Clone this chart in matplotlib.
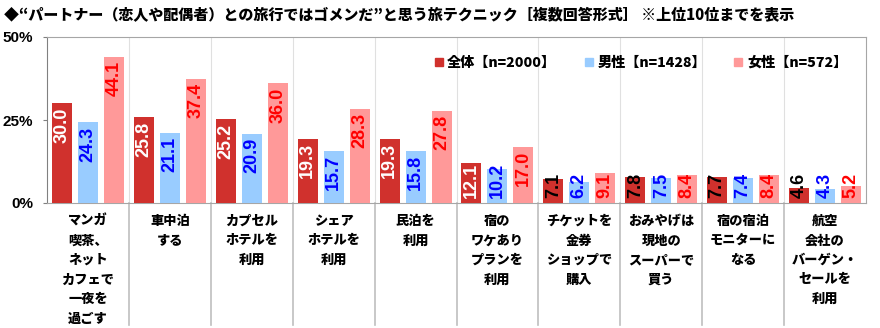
import matplotlib
matplotlib.use("Agg")
import matplotlib.pyplot as plt
import matplotlib.transforms as mtransforms
from matplotlib.lines import Line2D
import numpy as np

plt.rcParams['font.family'] = ['Liberation Sans', 'Noto Sans CJK JP', 'DejaVu Sans']

title = "◆“パートナー（恋人や配偶者）との旅行ではゴメンだ”と思う旅テクニック［複数回答形式］ ※上位10位までを表示"
categories = [
    "マンガ\n喫茶、\nネット\nカフェで\n一夜を\n過ごす",
    "車中泊\nする",
    "カプセル\nホテルを\n利用",
    "シェア\nホテルを\n利用",
    "民泊を\n利用",
    "宿の\nワケあり\nプランを\n利用",
    "チケットを\n金券\nショップで\n購入",
    "おみやげは\n現地の\nスーパーで\n買う",
    "宿の宿泊\nモニターに\nなる",
    "航空\n会社の\nバーゲン・\nセールを\n利用",
]
series_names = ["全体【n=2000】", "男性【n=1428】", "女性【n=572】"]
total = [30.0, 25.8, 25.2, 19.3, 19.3, 12.1, 7.1, 7.8, 7.7, 4.6]
male = [24.3, 21.1, 20.9, 15.7, 15.8, 10.2, 6.2, 7.5, 7.4, 4.3]
female = [44.1, 37.4, 36.0, 28.3, 27.8, 17.0, 9.1, 8.4, 8.4, 5.2]
yticks = [0, 25, 50]
ytick_labels = ["0%", "25%", "50%"]

bar_colors = ["#D0312D", "#99CCFF", "#FF9999"]
label_colors = ["white", "#0000FF", "#FF0000"]

fig = plt.figure(figsize=(8.8, 3.28), dpi=100)
ax = fig.add_axes([47/880, 1-203/328, (866-47)/880, (203-37)/328])

x = np.arange(len(categories))
offsets = [-0.317, 0.0, 0.317]
width = 0.244
data = [total, male, female]
label_fs = 13
px_per_pct = 166 / 50.0
em_px = label_fs * 100 / 72.0
for s, vals in enumerate(data):
    ax.bar(x + offsets[s], vals, width, color=bar_colors[s], zorder=3, label=series_names[s])
    for i, v in enumerate(vals):
        c = label_colors[s]
        if s == 0 and v < 10:
            c = "black"
        txt = f"{v:.1f}"
        w_em = 0.556 * (len(txt) - 1) + 0.278
        len_pct = w_em * em_px / px_per_pct
        ytop = max(v - 1.3, len_pct + 1.5)
        ax.text(x[i] + offsets[s], ytop, txt, rotation=90, ha='center', va='top',
                color=c, fontsize=label_fs, fontweight='bold', zorder=4, family='Liberation Sans')

ax.set_xlim(-0.5, len(categories) - 0.5)
ax.set_ylim(0, 50)
ax.set_yticks(yticks)
ax.set_yticklabels(ytick_labels, fontsize=11, fontweight='bold')
ax.tick_params(axis='y', length=3, width=0.8, color='#808080', pad=7)
ax.set_xticks([])
for sp in ax.spines.values():
    sp.set_color('#A6A6A6')
    sp.set_linewidth(0.8)
ax.spines['left'].set_color('#808080')

# vertical separators
trans = mtransforms.blended_transform_factory(ax.transData, ax.transAxes)
for k in range(1, len(categories)):
    ax.plot([k - 0.5, k - 0.5], [0, 1], transform=trans, color='#E0E0E0', lw=0.8, zorder=1)
    ax.plot([k - 0.5, k - 0.5], [0, -(325-203)/166], transform=trans, color='#BFBFBF', lw=1.2,
            clip_on=False, zorder=1)

for i, lab in enumerate(categories):
    ax.text(x[i], -(214-203)/166, lab, transform=trans, ha='center', va='top',
            fontsize=9.5, fontweight='black', family='Noto Sans CJK JP', linespacing=1.5)

handles = [Line2D([0], [0], marker='s', color='none', markerfacecolor=c, markeredgecolor=c,
                  markersize=6) for c in bar_colors]
leg = ax.legend(handles, series_names, ncol=3, loc='center', bbox_to_anchor=(0.725, 0.843),
                frameon=False, handlelength=0.6, handletextpad=0.3, columnspacing=2.0,
                prop={'family': 'Noto Sans CJK JP', 'weight': 'black', 'size': 10.2})

fig.text(0.004, 1 - 15/328, title, ha='left', va='center', fontsize=10.8, fontweight='black',
         family='Noto Sans CJK JP')

fig.savefig("out.png", dpi=100)
